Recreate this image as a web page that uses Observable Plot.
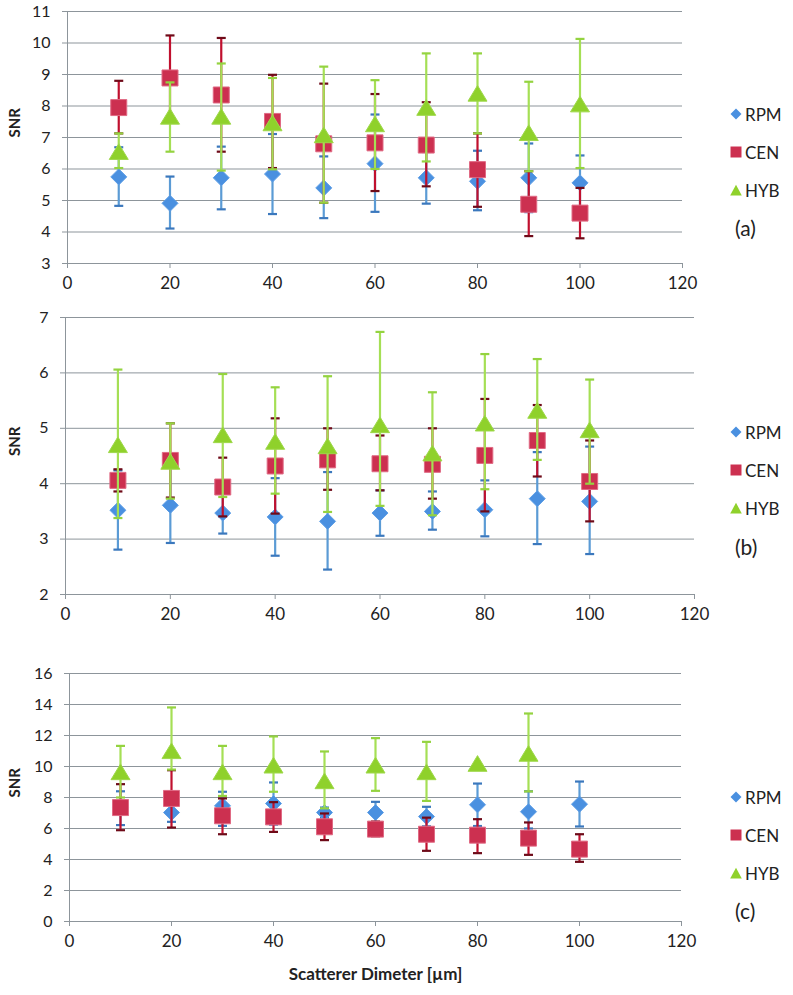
<!DOCTYPE html>
<html>
<head>
<meta charset="utf-8">
<script src="https://cdn.jsdelivr.net/npm/d3@7"></script>
<script src="https://cdn.jsdelivr.net/npm/@observablehq/plot@0.6"></script>
<style>
  html, body { margin: 0; padding: 0; background: #fff; }
  body { font-family: Lato, "Open Sans", sans-serif; color: #222; }
  #wrap { position: relative; width: 793px; height: 995px; overflow: hidden; }
  .panel { position: absolute; left: 0; }
  .leg { position: absolute; left: 730px; font-size: 17px; line-height: 17px; display: flex; align-items: center; white-space: nowrap; }
  .leg svg { margin-right: 3px; }
  .tag { position: absolute; left: 735px; font-size: 21px; line-height: 21px; }
</style>
</head>
<body>
<div id="wrap"></div>
<script>
// ---------- data ----------
const diameters = [10, 20, 30, 40, 50, 60, 70, 80, 90, 100];
const seriesNames = ["RPM", "CEN", "HYB"];
const xTicks = [0, 20, 40, 60, 80, 100, 120];

// panel (a)
const yTicksA = [3, 4, 5, 6, 7, 8, 9, 10, 11];
const aRPM   = [5.75, 4.91, 5.72, 5.84, 5.40, 6.17, 5.72, 5.61, 5.72, 5.56];
const aRPMLo = [4.83, 4.11, 4.72, 4.57, 4.44, 4.64, 4.90, 4.69, 4.63, 4.69];
const aRPMHi = [6.69, 5.76, 6.71, 7.11, 6.40, 7.73, 6.54, 6.58, 6.81, 6.43];
const aCEN   = [7.95, 8.89, 8.35, 7.51, 6.80, 6.83, 6.76, 5.98, 4.88, 4.60];
const aCENLo = [7.13, 7.54, 6.55, 6.03, 4.93, 5.30, 5.45, 4.80, 3.87, 3.80];
const aCENHi = [8.80, 10.24, 10.16, 8.99, 8.71, 8.38, 8.12, 7.13, 5.93, 5.40];
const aHYB   = [6.53, 7.65, 7.65, 7.44, 7.06, 7.41, 7.93, 8.38, 7.13, 8.04];
const aHYBLo = [6.03, 6.55, 5.95, 5.99, 4.93, 6.00, 6.24, 7.13, 5.93, 6.03];
const aHYBHi = [7.13, 8.75, 9.35, 8.89, 9.25, 8.82, 9.67, 9.67, 8.77, 10.13];

// panel (b)
const yTicksB = [2, 3, 4, 5, 6, 7];
const bRPM   = [3.52, 3.61, 3.47, 3.40, 3.32, 3.47, 3.50, 3.53, 3.73, 3.68];
const bRPMLo = [2.81, 2.93, 3.10, 2.70, 2.45, 3.06, 3.17, 3.05, 2.91, 2.73];
const bRPMHi = [4.24, 4.29, 3.84, 4.10, 4.21, 3.88, 3.86, 4.06, 4.57, 4.67];
const bCEN   = [4.06, 4.42, 3.94, 4.32, 4.43, 4.36, 4.35, 4.51, 4.78, 4.04];
const bCENLo = [3.86, 3.75, 3.41, 3.46, 3.89, 3.88, 3.73, 3.50, 4.13, 3.32];
const bCENHi = [4.26, 5.09, 4.47, 5.18, 5.00, 4.87, 5.00, 5.53, 5.42, 4.78];
const bHYB   = [4.69, 4.39, 4.87, 4.75, 4.67, 5.05, 4.54, 5.08, 5.31, 4.96];
const bHYBLo = [3.38, 3.73, 3.76, 3.82, 3.49, 3.60, 3.43, 3.90, 4.43, 4.00];
const bHYBHi = [6.06, 5.09, 5.98, 5.74, 5.94, 6.74, 5.65, 6.34, 6.25, 5.88];

// panel (c)
const yTicksC = [0, 2, 4, 6, 8, 10, 12, 14, 16];
const cRPM   = [7.35, 7.03, 7.46, 7.61, 7.03, 7.03, 6.77, 7.53, 7.08, 7.57];
const cRPMLo = [6.22, 6.43, 6.17, 6.25, 6.70, 6.34, 6.14, 6.16, 6.00, 6.13];
const cRPMHi = [8.40, 7.60, 8.37, 8.97, 7.35, 7.72, 7.40, 8.90, 8.40, 9.03];
const cCEN   = [7.35, 7.94, 6.82, 6.75, 6.11, 5.96, 5.63, 5.57, 5.38, 4.67];
const cCENLo = [5.89, 6.06, 5.63, 5.78, 5.25, 5.50, 4.56, 4.41, 4.30, 3.85];
const cCENHi = [8.86, 9.76, 7.94, 7.70, 6.97, 6.45, 6.70, 6.60, 6.39, 5.63];
const cHYB   = [9.61, 10.97, 9.61, 10.04, 9.03, 10.04, 9.61, 10.15, 10.80];
const cHYBLo = [8.00, 9.80, 8.10, 8.37, 7.30, 8.43, 7.78, 10.15, 8.39];
const cHYBHi = [11.33, 13.81, 11.33, 11.94, 10.97, 11.83, 11.59, 10.15, 13.42];

// ---------- styling ----------
const COL = {
  RPM: {fill: "#4a90e0", stroke: "#5d9ee6", bar: "#5b9bd5", cap: "#3b78bd"},
  CEN: {fill: "#cc3050", stroke: "#e06a84", bar: "#c0102e", cap: "#6e0a18"},
  HYB: {fill: "#8fd12b", stroke: "#9ed84a", bar: "#a5df55", cap: "#94d340"}
};
const GRID = "#8d959b";

const symR = (size) => Math.sqrt(size / Math.PI);
const SYM = {
  RPM: {draw(ctx, size) { const r = symR(size); ctx.moveTo(0, -r); ctx.lineTo(r, 0); ctx.lineTo(0, r); ctx.lineTo(-r, 0); ctx.closePath(); }},
  CEN: {draw(ctx, size) { const r = symR(size); ctx.rect(-r, -r, 2 * r, 2 * r); }},
  HYB: {draw(ctx, size) { const r = symR(size); ctx.moveTo(0, -r * 0.9); ctx.lineTo(r, r * 0.75); ctx.lineTo(-r, r * 0.75); ctx.closePath(); }}
};
const CAP = {draw(ctx, size) { const r = symR(size); ctx.moveTo(-r, 0); ctx.lineTo(r, 0); }};
const SIZE = {RPM: 8, CEN: 8, HYB: 9.5};

function rows(vals, lo, hi) {
  return vals.map((v, i) => ({x: diameters[i], v, lo: lo[i], hi: hi[i]}));
}

function seriesMarks(name, data) {
  const c = COL[name];
  return [
    Plot.ruleX(data, {x: "x", y1: "lo", y2: "hi", stroke: c.bar, strokeWidth: 2.2}),
    Plot.dot(data, {x: "x", y: "lo", symbol: CAP, r: 4.5, stroke: c.cap, strokeWidth: 2.2, fill: "none"}),
    Plot.dot(data, {x: "x", y: "hi", symbol: CAP, r: 4.5, stroke: c.cap, strokeWidth: 2.2, fill: "none"}),
    Plot.dot(data, {x: "x", y: "v", symbol: SYM[name], r: SIZE[name], fill: c.fill, stroke: c.stroke, strokeWidth: 1})
  ];
}

function panel({top, height, mt, mb, ml, mr, yTicks, series, extra = []}) {
  const [y0, y1] = [yTicks[0], yTicks[yTicks.length - 1]];
  const chart = Plot.plot({
    width: 793,
    height,
    marginTop: mt, marginBottom: mb, marginLeft: ml, marginRight: mr,
    style: {fontFamily: "Lato, 'Open Sans', sans-serif", fontSize: "16px", color: "#222", background: "transparent", overflow: "visible"},
    x: {domain: [0, 120], label: null},
    y: {domain: [y0, y1], label: null},
    marks: [
      Plot.ruleY(yTicks, {stroke: GRID, strokeWidth: 1}),
      Plot.ruleX([0], {y1: y0, y2: y1, stroke: GRID, strokeWidth: 1}),
      Plot.axisY(yTicks, {tickSize: 5, tickPadding: 12, stroke: GRID, fill: "#222", fontSize: 16, tickFormat: d => String(d), label: null}),
      Plot.axisX(xTicks, {tickSize: 5, tickPadding: 8, stroke: GRID, fill: "#222", fontSize: 17, tickFormat: d => String(d), label: null}),
      Plot.text(["SNR"], {text: d => d, frameAnchor: "left", rotate: -90, dx: 15 - ml, fontWeight: "bold", fontSize: 15, fill: "#222"}),
      ...series.flatMap(([name, data]) => seriesMarks(name, data)),
      ...extra
    ]
  });
  chart.classList.add("panel");
  chart.style.top = top + "px";
  chart.style.position = "absolute";
  return chart;
}

const wrap = document.getElementById("wrap");

wrap.appendChild(panel({
  top: 0, height: 301, mt: 11, mb: 38, ml: 67, mr: 111, yTicks: yTicksA,
  series: [["RPM", rows(aRPM, aRPMLo, aRPMHi)], ["CEN", rows(aCEN, aCENLo, aCENHi)], ["HYB", rows(aHYB, aHYBLo, aHYBHi)]]
}));
wrap.appendChild(panel({
  top: 301, height: 339, mt: 16, mb: 46, ml: 65, mr: 99, yTicks: yTicksB,
  series: [["RPM", rows(bRPM, bRPMLo, bRPMHi)], ["CEN", rows(bCEN, bCENLo, bCENHi)], ["HYB", rows(bHYB, bHYBLo, bHYBHi)]]
}));
wrap.appendChild(panel({
  top: 640, height: 355, mt: 33, mb: 74, ml: 69, mr: 112, yTicks: yTicksC,
  series: [["RPM", rows(cRPM, cRPMLo, cRPMHi)], ["CEN", rows(cCEN, cCENLo, cCENHi)], ["HYB", rows(cHYB, cHYBLo, cHYBHi)]],
  extra: [Plot.text(["Scatterer Dimeter [µm]"], {text: d => d, frameAnchor: "bottom", dy: 58, fontWeight: "bold", fontSize: 17, fill: "#222"})]
}));

// ---------- legends ----------
const legendSpots = [
  {items: [114, 152, 190], tag: "(a)", tagY: 227},
  {items: [432, 470, 508], tag: "(b)", tagY: 546},
  {items: [797, 835, 873], tag: "(c)", tagY: 910}
];
function swatch(name) {
  const c = COL[name];
  const paths = {
    RPM: "M6,0.5 L11.5,6 L6,11.5 L0.5,6 Z",
    CEN: "M0.5,0.5 H11.5 V11.5 H0.5 Z",
    HYB: "M6,0.8 L11.8,11.5 L0.2,11.5 Z"
  };
  return `<svg width="12" height="12" viewBox="0 0 12 12"><path d="${paths[name]}" fill="${c.fill}"/></svg>`;
}
legendSpots.forEach(spot => {
  seriesNames.forEach((name, i) => {
    const d = document.createElement("div");
    d.className = "leg";
    d.style.top = (spot.items[i] - 8.5) + "px";
    d.innerHTML = swatch(name) + `<span>${name}</span>`;
    wrap.appendChild(d);
  });
  const t = document.createElement("div");
  t.className = "tag";
  t.style.top = (spot.tagY - 10.5) + "px";
  t.textContent = spot.tag;
  wrap.appendChild(t);
});
</script>
</body>
</html>
